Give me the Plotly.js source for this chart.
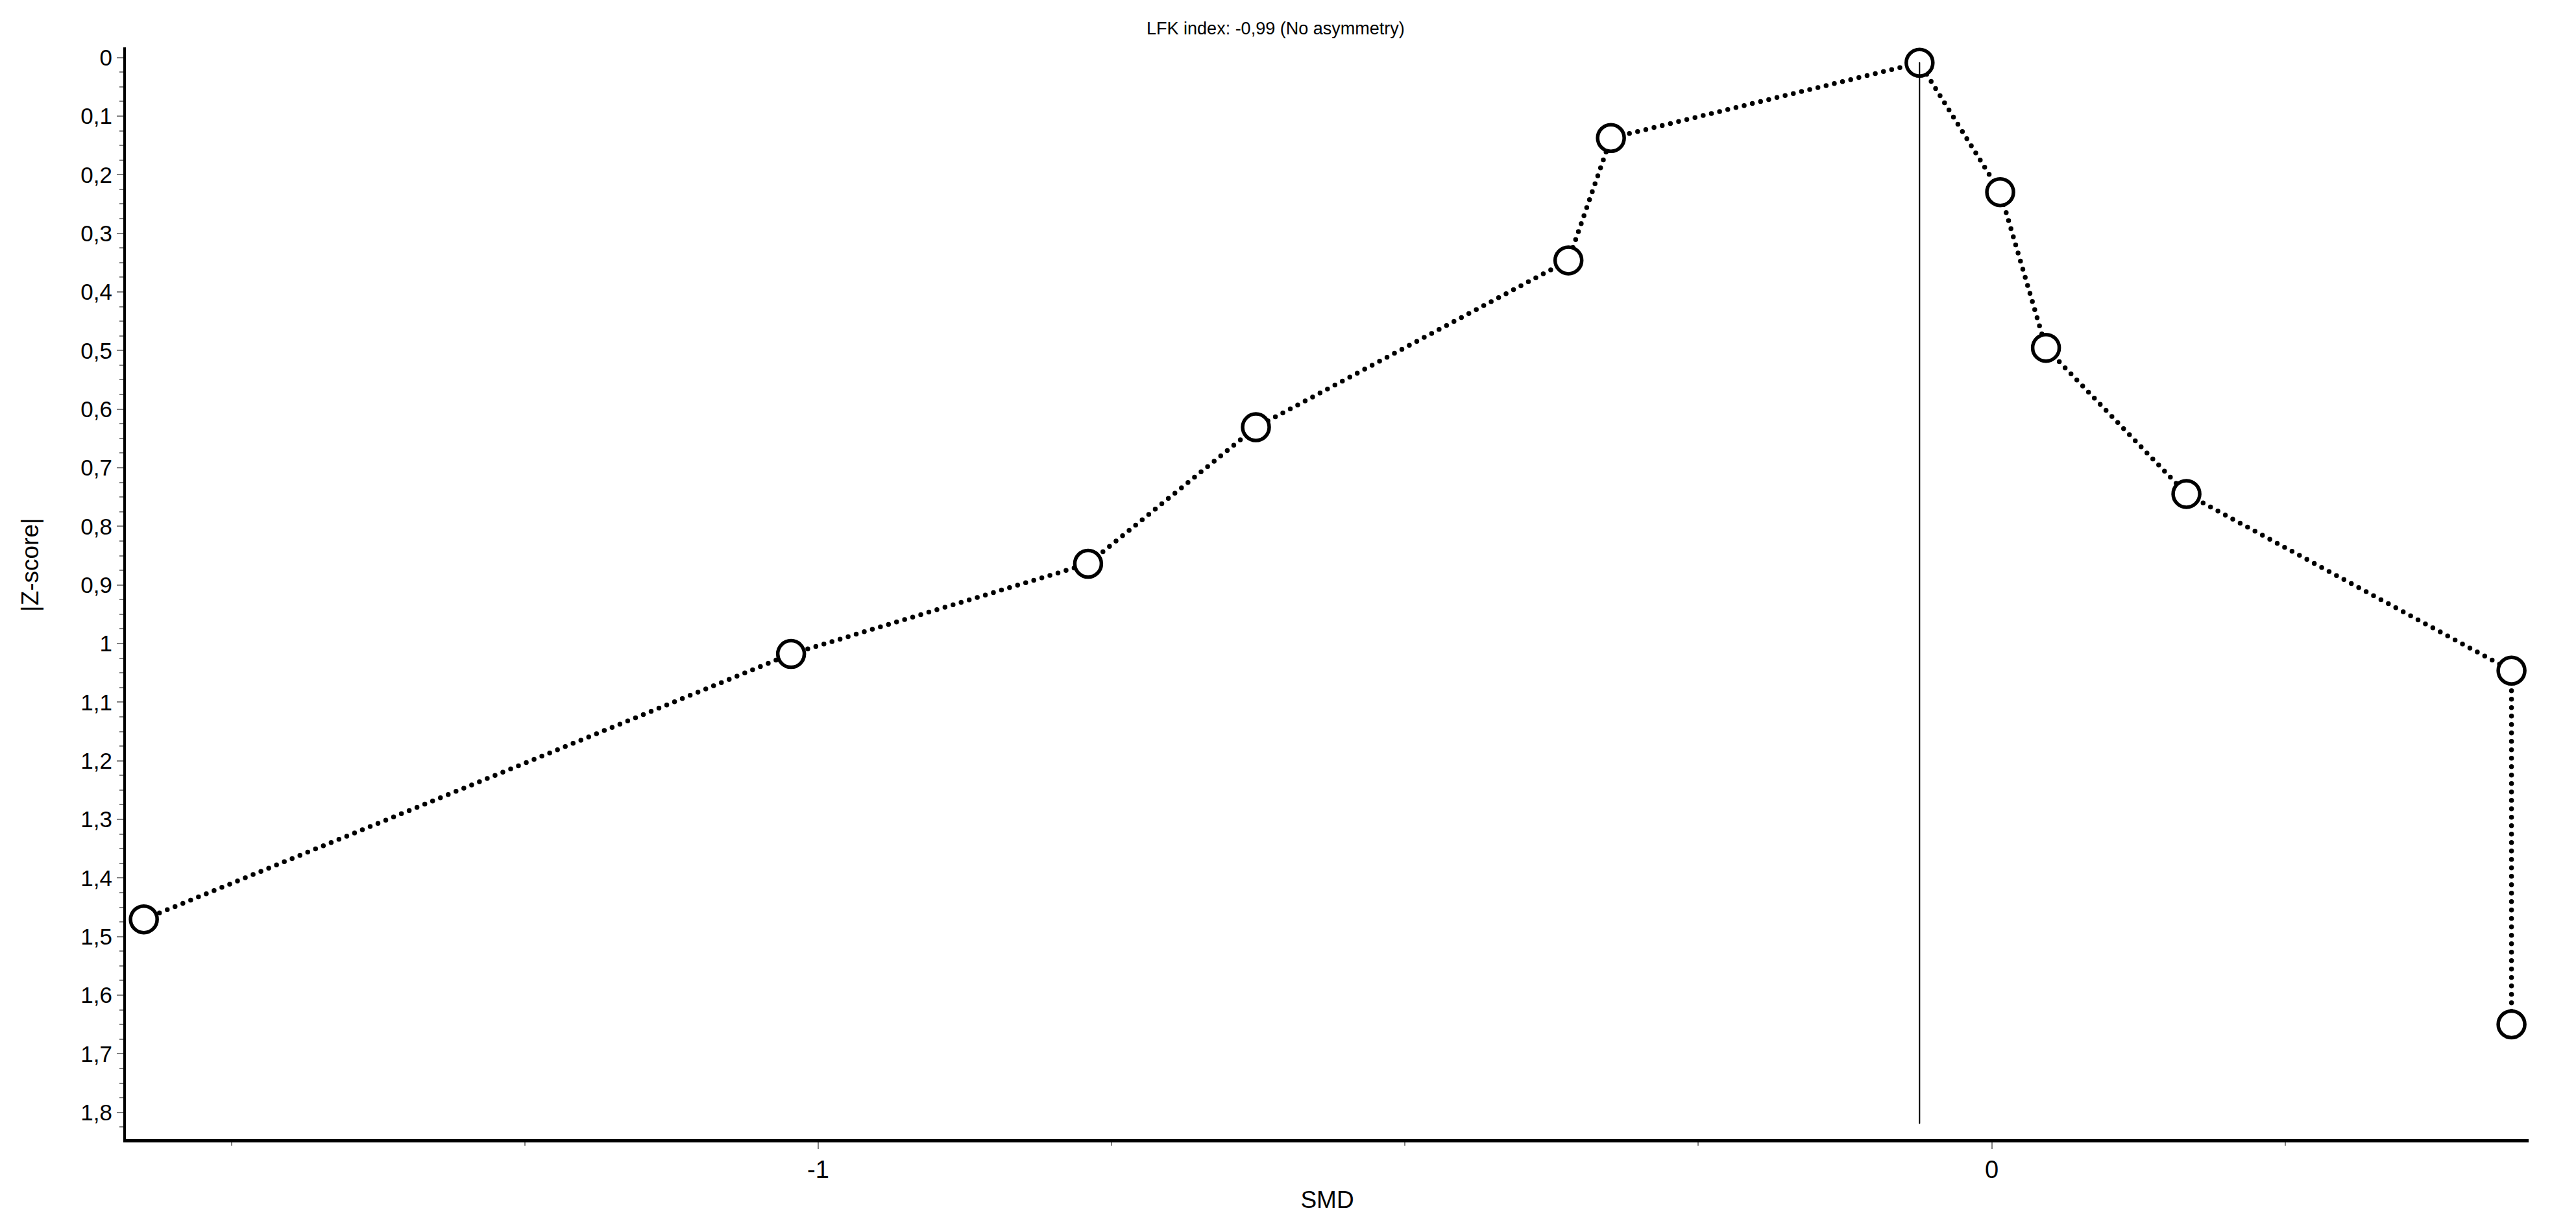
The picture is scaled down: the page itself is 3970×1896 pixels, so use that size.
<!DOCTYPE html>
<html>
<head>
<meta charset="utf-8">
<script src="https://cdn.plot.ly/plotly-3.0.1.min.js"></script>
<style>
  html, body { margin: 0; padding: 0; background: #fff; }
  /* round caps turn the zero-length dashes into dots */
  .js-line { stroke-linecap: round; }
</style>
</head>
<body>
<div id="doiPlot"></div>
<script>
// Doi plot points, in rank order
const smd = [-1.5746, -1.0231, -0.7700, -0.6270, -0.3607, -0.3245, -0.0615, 0.0072, 0.0462, 0.1659, 0.4429, 0.4429];
const zScore = [1.4706, 1.0178, 0.8639, 0.6309, 0.3462, 0.1374, 0.0090, 0.2297, 0.4954, 0.7447, 1.0462, 1.6498];

// vertical reference line at the most precise study
const refLineX = [-0.0615, -0.0615];
const refLineY = [0.0090, 1.8186];

const xTickVals = [-1, 0];
const xTickText = ['-1', '0'];
const yTickVals = [0, 0.1, 0.2, 0.3, 0.4, 0.5, 0.6, 0.7, 0.8, 0.9, 1, 1.1, 1.2, 1.3, 1.4, 1.5, 1.6, 1.7, 1.8];
const yTickText = ['0', '0,1', '0,2', '0,3', '0,4', '0,5', '0,6', '0,7', '0,8', '0,9', '1', '1,1', '1,2', '1,3', '1,4', '1,5', '1,6', '1,7', '1,8'];

const font = '"Liberation Sans", Arial, sans-serif';

if (typeof window !== "undefined") {
  document.addEventListener('DOMContentLoaded', () => {
    const plot = document.getElementById('doiPlot');

    Plotly.newPlot(plot, [{
      x: smd,
      y: zScore,
      type: 'scatter',
      mode: 'lines+markers',
      line: { color: '#000', width: 7.5, dash: '0px,13px' },
      marker: { size: 41, color: '#fff', line: { color: '#000', width: 5.5 } },
      hoverinfo: 'x+y'
    }, {
      x: refLineX,
      y: refLineY,
      type: 'scatter',
      mode: 'lines',
      line: { color: '#000', width: 2 },
      hoverinfo: 'skip'
    }], {
      width: 3970,
      height: 1896,
      paper_bgcolor: '#fff',
      plot_bgcolor: '#fff',
      showlegend: false,
      margin: { l: 194, r: 73, t: 73, b: 140, pad: 0 },
      font: { family: font, color: '#000' },
      title: {
        text: 'LFK index: -0,99 (No asymmetry)',
        font: { family: font, size: 27, color: '#000' },
        xref: 'paper', x: 0.4785, xanchor: 'center',
        yref: 'container', y: 0.9768, yanchor: 'middle'
      },
      xaxis: {
        range: [-1.5899, 0.4575],
        showgrid: false,
        zeroline: false,
        showline: true,
        linecolor: '#000',
        linewidth: 4.5,
        ticks: 'outside',
        tickmode: 'array',
        tickvals: xTickVals,
        ticktext: xTickText,
        ticklen: 10,
        tickwidth: 2,
        tickcolor: '#808080',
        tickfont: { family: font, size: 38, color: '#000' },
        minor: { tickmode: 'linear', tick0: 0, dtick: 0.25, ticks: 'outside', ticklen: 5, tickwidth: 2, tickcolor: '#808080', showgrid: false },
        title: { text: 'SMD', font: { family: font, size: 37, color: '#000' }, standoff: 14 }
      },
      yaxis: {
        range: [1.8457, -0.0173],
        showgrid: false,
        zeroline: false,
        showline: true,
        linecolor: '#000',
        linewidth: 4,
        ticks: 'outside',
        tickmode: 'array',
        tickvals: yTickVals,
        ticktext: yTickText,
        ticklen: 10,
        tickwidth: 2,
        tickcolor: '#808080',
        tickfont: { family: font, size: 35, color: '#000' },
        minor: { tickmode: 'linear', tick0: 0, dtick: 0.025, ticks: 'outside', ticklen: 6, tickwidth: 2, tickcolor: '#808080', showgrid: false }
      },
      // y title sits a little above the middle of the axis in the original
      annotations: [{
        text: '|Z-score|',
        textangle: -90,
        xref: 'paper', yref: 'paper',
        x: -0.04, y: 0.5264,
        xanchor: 'center', yanchor: 'middle',
        showarrow: false,
        font: { family: font, size: 37, color: '#000' }
      }]
    }, { displayModeBar: false, staticPlot: true });
  });
}
</script>
</body>
</html>
